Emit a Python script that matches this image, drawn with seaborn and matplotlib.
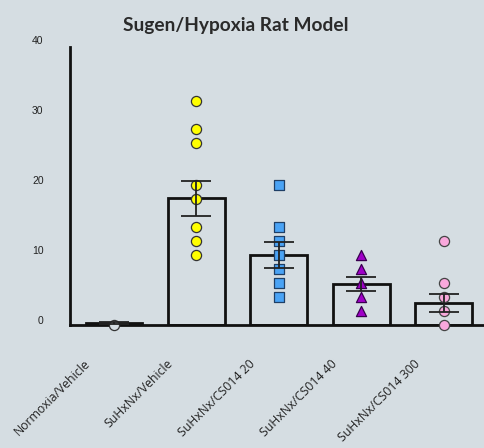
import numpy as np
import pandas as pd
import matplotlib
matplotlib.use("Agg")
import matplotlib.pyplot as plt
import matplotlib.transforms as mtransforms
import seaborn as sns

# ---- data ----
groups = ["Normoxia/Vehicle", "SuHxNx/Vehicle", "SuHxNx/CS014 20",
          "SuHxNx/CS014 40", "SuHxNx/CS014 300"]
bar_means = [0.3, 18.1, 10.0, 5.8, 3.1]
bar_sems = [0.2, 2.5, 1.8, 1.0, 1.3]
pts_normoxia = [0.0]
pts_vehicle = [32, 28, 26, 20, 18, 14, 12, 10]
pts_cs20 = [20, 14, 12, 10, 8, 6, 4]
pts_cs40 = [10, 8, 6, 4, 2]
pts_cs300 = [12, 6, 4, 2, 0]
title = "Sugen/Hypoxia Rat Model"
yticks = [0, 10, 20, 30, 40]

point_sets = [pts_normoxia, pts_vehicle, pts_cs20, pts_cs40, pts_cs300]
markers = ["o", "o", "s", "^", "o"]
face_colors = ["#d5dde2", "#ffff00", "#4aa3f5", "#a000c8", "#f9a8dc"]
edge_colors = ["#333333", "#333333", "#1f3f66", "#3a0050", "#444444"]

bg = "#d5dde2"
sns.set_style("white")
plt.rcParams["font.family"] = ["Liberation Sans", "DejaVu Sans"]

fig = plt.figure(figsize=(4.85, 4.48), dpi=100, facecolor=bg)
ax = fig.add_axes([70 / 485, (448 - 325) / 448, 1 - 70 / 485, 280 / 448])
ax.set_facecolor(bg)

bar_df = pd.DataFrame({"group": groups, "mean": bar_means})
sns.barplot(data=bar_df, x="group", y="mean", order=groups, ax=ax,
            fill=False, edgecolor="#111111", linewidth=2.0, width=0.69,
            errorbar=None, zorder=2)

for i, (pts, m, fc, ec) in enumerate(zip(point_sets, markers, face_colors, edge_colors)):
    df = pd.DataFrame({"group": [groups[i]] * len(pts), "value": pts})
    sns.stripplot(data=df, x="group", y="value", order=groups, ax=ax,
                  marker=m, color=fc, edgecolor=ec, linewidth=0.9,
                  size=7.3, jitter=False, zorder=3, clip_on=False)

ax.errorbar(x=np.arange(len(groups)), y=bar_means, yerr=bar_sems, fmt="none",
            ecolor="#222222", elinewidth=1.3, capsize=11, capthick=1.3, zorder=4,
            clip_on=False)

ax.set_xlim(-0.533, 4.5)
ax.set_ylim(0, 40)
ax.set_yticks(yticks)
ax.set_yticklabels([str(t) for t in yticks], fontsize=7.5, color="#222222")
ax.set_xlabel("")
ax.set_ylabel("")

for s in ["top", "right"]:
    ax.spines[s].set_visible(False)
for s in ["left", "bottom"]:
    ax.spines[s].set_linewidth(2.0)
    ax.spines[s].set_color("#111111")
ax.spines["left"].set_bounds(0, 39.7)

ax.tick_params(axis="y", direction="out", length=5, width=2.0, color="#111111", pad=14)
ax.tick_params(axis="x", direction="out", length=5, width=2.0, color="#111111", pad=2)

# y labels sit slightly above their ticks
off_y = mtransforms.ScaledTranslation(0, 0.055, fig.dpi_scale_trans)
for lab in ax.get_yticklabels():
    lab.set_transform(lab.get_transform() + off_y)

ax.set_xticks(range(len(groups)))
ax.set_xticklabels(groups, rotation=45, ha="right", va="center",
                   rotation_mode="anchor", fontsize=8.8, color="#222222",
                   family=["Open Sans", "DejaVu Sans"])
off_x = mtransforms.ScaledTranslation(-0.26, -0.27, fig.dpi_scale_trans)
for lab in ax.get_xticklabels():
    lab.set_transform(lab.get_transform() + off_x)

fig.text(236 / 485, 1 - 25 / 448, title, ha="center", va="center",
         fontsize=13.8, fontweight="bold", color="#2a2a2a",
         family=["Lato", "DejaVu Sans"])

fig.savefig("out.png", dpi=100, facecolor=bg)
